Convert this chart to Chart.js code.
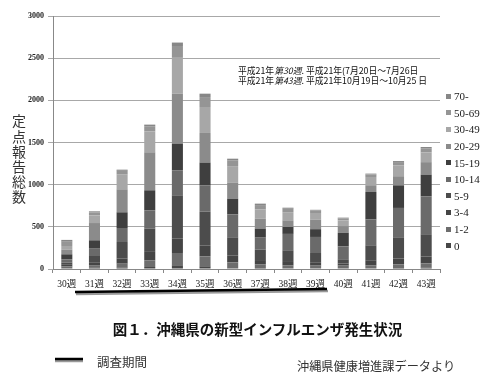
<!DOCTYPE html>
<html><head><meta charset="utf-8">
<script src="https://cdn.jsdelivr.net/npm/chart.js@4"></script>
<style>
html,body{margin:0;padding:0;background:#fff;width:500px;height:384px;overflow:hidden;}
#wrap{position:relative;width:500px;height:384px;}
canvas{position:absolute;left:0;top:0;}
.t{position:absolute;white-space:nowrap;color:#222;font-family:"Noto Sans CJK JP","Noto Sans",sans-serif;line-height:1;}
#ytitle{left:12px;top:114px;font-size:14px;writing-mode:vertical-rl;letter-spacing:1.2px;color:#333;}
#note{left:238px;top:66px;font-size:8.8px;line-height:10px;color:#111;}
#note i{font-style:italic;}
#title{left:0;width:515px;text-align:center;top:322px;font-size:14.5px;font-weight:bold;color:#111;}
#period{left:97px;top:356px;font-size:12.5px;color:#333;}
#source{left:297px;top:360px;font-size:12.2px;color:#333;}
#legend{position:absolute;left:446px;top:88px;}
.li{height:16.6px;display:flex;align-items:center;font-family:"Liberation Serif","Noto Sans CJK JP",serif;font-size:11px;color:#222;}
.sw{width:5px;height:5px;margin-right:3px;display:inline-block;}
</style></head>
<body><div id="wrap">
<canvas id="c" width="500" height="384"></canvas>
<div class="t" id="ytitle">定点報告総数</div>
<div class="t" id="note">平成21年<i>第30週</i>. 平成21年(7月20日～7月26日<br>平成21年<i>第43週</i>. 平成21年10月19日～10月25 日</div>
<div id="legend"></div>
<div class="t" id="title">図１．沖縄県の新型インフルエンザ発生状況</div>
<svg style="position:absolute;left:0;top:0" width="500" height="384">
  <line x1="76" y1="294" x2="328" y2="291" stroke="#999" stroke-width="2.5"/>
  <line x1="75" y1="292" x2="327" y2="289" stroke="#000" stroke-width="2.5"/>
  <line x1="55" y1="361" x2="83" y2="361" stroke="#999" stroke-width="2.5"/>
  <line x1="55" y1="359" x2="83" y2="359" stroke="#000" stroke-width="2.5"/>
</svg>
<div class="t" id="period">調査期間</div>
<div class="t" id="source">沖縄県健康増進課データより</div>
</div>
<script>
const weeks = ["30週","31週","32週","33週","34週","35週","36週","37週","38週","39週","40週","41週","42週","43週"];
const ageGroups = ["0","1-2","3-4","5-9","10-14","15-19","20-29","30-49","50-69","70-"];
const colors = ["#474747","#6d6d6d","#454545","#4c4c4c","#6a6a6a","#3f3f3f","#8b8b8b","#a7a7a7","#959595","#878787"];
const yTicks = [0,500,1000,1500,2000,2500,3000];

const age0    = [10,15,15,24,44,32,10,12,10,10,10,10,12,15];
const age1_2  = [20,25,48,79,146,118,68,44,34,30,30,34,42,52];
const age3_4  = [20,40,60,100,170,130,80,50,50,40,25,60,70,80];
const age5_9  = [25,74,197,275,514,400,218,124,128,110,50,177,252,265];
const age10_14= [40,87,166,218,297,310,272,142,194,190,154,308,348,450];
const age15_19= [59,99,186,237,316,272,186,107,82,92,160,324,268,257];
const age20_29= [56,205,273,451,593,351,192,118,79,114,79,80,108,148];
const age30_49= [43,91,174,249,434,308,194,111,97,78,68,98,130,115];
const age50_69= [50,35,45,60,130,118,65,50,40,28,25,30,38,50];
const age70   = [22,13,14,19,41,40,23,17,13,10,8,10,12,15];

const series = [age0,age1_2,age3_4,age5_9,age10_14,age15_19,age20_29,age30_49,age50_69,age70];

const datasets = ageGroups.map((g,i)=>({
  label:g, data:series[i], backgroundColor:colors[i], borderWidth:0,
  barPercentage:0.4, categoryPercentage:1.0
}));

const lg = document.getElementById('legend');
for (let i = ageGroups.length-1; i>=0; i--) {
  const d = document.createElement('div'); d.className='li';
  d.innerHTML = '<span class="sw" style="background:'+colors[i]+'"></span>'+ageGroups[i];
  lg.appendChild(d);
}

new Chart(document.getElementById('c'), {
  type:'bar',
  data:{labels:weeks, datasets},
  options:{
    responsive:false, animation:false, devicePixelRatio:1,
    layout:{padding:{left:0,right:60,top:16,bottom:0}},
    plugins:{legend:{display:false}, tooltip:{enabled:false}},
    scales:{
      x:{
        stacked:true,
        afterFit:s=>{s.height=115;},
        grid:{display:true,drawOnChartArea:false,offset:true,tickLength:4,color:'#888'},
        border:{color:'#888'},
        ticks:{font:{family:"'Liberation Serif','Noto Sans CJK JP',serif",size:9.5},color:'#222',padding:6,maxRotation:0,autoSkip:false}
      },
      y:{
        stacked:true, min:0, max:3000,
        afterFit:s=>{s.width=53;},
        afterBuildTicks:s=>{s.ticks=yTicks.map(v=>({value:v}));},
        grid:{color:'#a8a8a8',tickLength:5},
        border:{color:'#888'},
        ticks:{font:{family:"'Liberation Serif',serif",size:8,weight:'bold'},color:'#222',padding:4,callback:v=>String(v)}
      }
    }
  }
});
</script>
</body></html>
